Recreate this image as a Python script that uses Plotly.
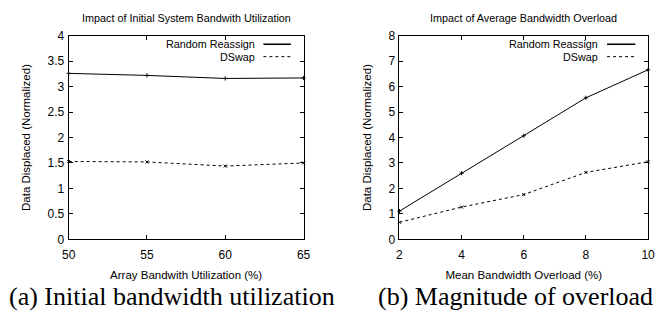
import plotly.graph_objects as go

# Data
util_x = [50, 55, 60, 65]
util_random = [3.26, 3.22, 3.16, 3.17]
util_dswap = [1.53, 1.52, 1.44, 1.50]

over_x = [2, 4, 6, 8, 10]
over_random = [1.11, 2.60, 4.07, 5.56, 6.66]
over_dswap = [0.67, 1.27, 1.76, 2.63, 3.05]

series_names = ["Random Reassign", "DSwap"]
titles = ["Impact of Initial System Bandwith Utilization", "Impact of Average Bandwidth Overload"]
xlabels = ["Array Bandwith Utilization (%)", "Mean Bandwidth Overload (%)"]
ylabel = "Data Displaced (Normalized)"
captions = ["(a) Initial bandwidth utilization", "(b) Magnitude of overload"]

W, H = 658, 320
SANS = "Liberation Sans, Arial, sans-serif"
SERIF = "Liberation Serif, Times New Roman, serif"

fig = go.Figure()

def add_series(x, yr, yd, xa, ya):
    fig.add_trace(go.Scatter(x=x, y=yr, mode="lines+markers", name=series_names[0],
                             line=dict(color="black", width=1),
                             marker=dict(symbol="cross-thin", size=3, line=dict(color="black", width=1)),
                             xaxis=xa, yaxis=ya, showlegend=False, cliponaxis=False))
    fig.add_trace(go.Scatter(x=x, y=yd, mode="lines+markers", name=series_names[1],
                             line=dict(color="black", width=1, dash="dot"),
                             marker=dict(symbol="x-thin", size=3, line=dict(color="black", width=1)),
                             xaxis=xa, yaxis=ya, showlegend=False, cliponaxis=False))

add_series(util_x, util_random, util_dswap, "x", "y")
add_series(over_x, over_random, over_dswap, "x2", "y2")

ydom = [1 - 243 / H, 1 - 30 / H]
xdom1 = [63 / W, 303 / W]
xdom2 = [401 / W, 655 / W]

axis_common = dict(showline=True, linecolor="black", linewidth=1, mirror="ticks",
                   ticks="inside", ticklen=4, tickcolor="black", showgrid=False,
                   zeroline=False, tickfont=dict(family=SANS, size=12, color="black"))
TF = dict(family=SANS, size=11.5, color="black")

fig.update_layout(
    width=W, height=H, margin=dict(l=0, r=0, t=0, b=0),
    paper_bgcolor="white", plot_bgcolor="white", showlegend=False,
    xaxis=dict(domain=xdom1, range=[50, 65], dtick=5, anchor="y", ticklabelstandoff=4,
               title=dict(text=xlabels[0], font=TF, standoff=10), **axis_common),
    yaxis=dict(domain=ydom, range=[0, 4], dtick=0.5, anchor="x", ticklabelstandoff=1,
               title=dict(text=ylabel, font=TF, standoff=14), **axis_common),
    xaxis2=dict(domain=xdom2, range=[2, 10], dtick=2, anchor="y2", ticklabelstandoff=4,
                title=dict(text=xlabels[1], font=TF, standoff=10), **axis_common),
    yaxis2=dict(domain=ydom, range=[0, 8], dtick=1, anchor="x2", ticklabelstandoff=1,
                title=dict(text=ylabel, font=TF, standoff=14), **axis_common),
)

ann = []
shapes = []
for i, (xd, suffix) in enumerate([(xdom1, ""), (xdom2, "2")]):
    cx = (xd[0] + xd[1]) / 2
    ann.append(dict(text=titles[i], x=cx, y=1 - 11 / H, xref="paper", yref="paper",
                    showarrow=False, xanchor="center", yanchor="middle",
                    font=dict(family=SANS, size=10.8, color="black")))
    xr = "x%s domain" % suffix
    yr = "y%s domain" % suffix
    legy = [0.958, 0.897]
    txt_x = 0.80 if i == 0 else 0.807
    s0, s1 = (0.829, 0.946) if i == 0 else (0.835, 0.949)
    for j, name in enumerate(series_names):
        ann.append(dict(text=name, x=txt_x, y=legy[j], xref=xr, yref=yr, showarrow=False,
                        xanchor="right", yanchor="middle",
                        font=dict(family=SANS, size=10.8, color="black")))
        shapes.append(dict(type="line", xref=xr, yref=yr, x0=s0, x1=s1, y0=legy[j], y1=legy[j],
                           line=dict(color="black", width=1.5 if j == 0 else 1,
                                     dash="solid" if j == 0 else "dot")))

ann.append(dict(text=captions[0], x=0, y=1 - 303 / H, xref="paper", yref="paper", showarrow=False,
                xanchor="left", yanchor="middle", font=dict(family=SERIF, size=26, color="black")))
ann.append(dict(text=captions[1], x=377 / W, y=1 - 303 / H, xref="paper", yref="paper", showarrow=False,
                xanchor="left", yanchor="middle", font=dict(family=SERIF, size=26, color="black")))

fig.update_layout(annotations=ann, shapes=shapes)
fig.write_html("out.html")
